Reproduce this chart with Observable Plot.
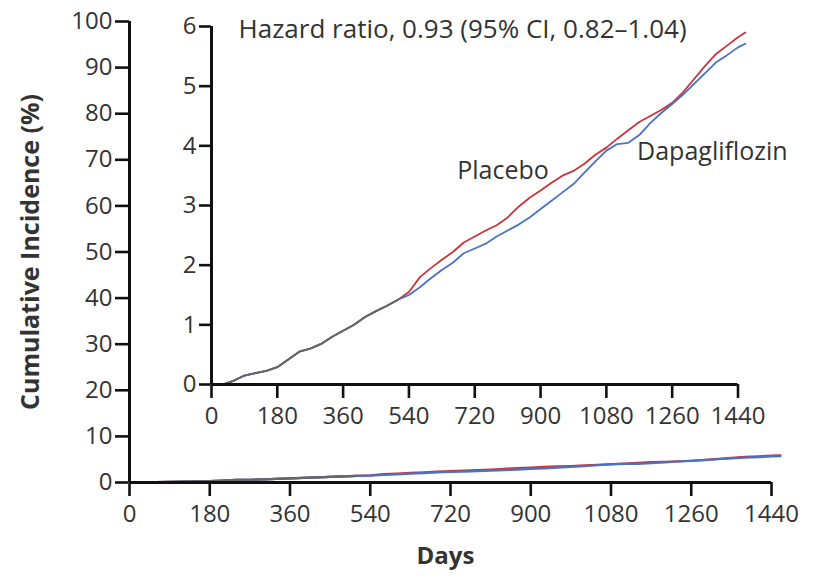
<!DOCTYPE html>
<html><head><meta charset="utf-8">
<script src="https://cdn.jsdelivr.net/npm/d3@7"></script>
<script src="https://cdn.jsdelivr.net/npm/@observablehq/plot@0.6"></script>
<style>
html,body{margin:0;padding:0;background:#fff;}
#wrap{position:relative;width:814px;height:581px;overflow:hidden;}
#wrap svg{position:absolute;left:0;top:0;}
#wrap [aria-label*="axis"] line, #wrap [aria-label*="axis"] path{stroke-width:2.6px;stroke:#111;}
</style></head><body><div id="wrap"></div>
<script>
const days = [0,30,60,90,120,150,180,210,240,270,300,330,360,390,420,450,480,510,540,570,600,630,660,690,720,750,780,810,840,870,900,930,960,990,1020,1050,1080,1110,1140,1170,1200,1230,1260,1290,1320,1350,1380,1410,1440,1460];
const placebo = [0,0,0.06,0.15,0.19,0.23,0.29,0.42,0.55,0.60,0.68,0.80,0.90,1.00,1.13,1.23,1.32,1.42,1.55,1.80,1.95,2.09,2.22,2.38,2.48,2.58,2.67,2.80,2.98,3.13,3.25,3.38,3.50,3.58,3.70,3.85,3.97,4.12,4.26,4.40,4.50,4.60,4.72,4.90,5.12,5.34,5.54,5.68,5.82,5.90];
const dapagliflozin = [0,0,0.06,0.15,0.19,0.23,0.29,0.42,0.55,0.60,0.68,0.80,0.90,1.00,1.13,1.23,1.32,1.42,1.50,1.63,1.78,1.92,2.04,2.20,2.28,2.36,2.48,2.58,2.68,2.80,2.94,3.08,3.22,3.36,3.55,3.74,3.92,4.03,4.05,4.18,4.38,4.55,4.70,4.86,5.04,5.22,5.40,5.52,5.65,5.71];
const xTicks = [0,180,360,540,720,900,1080,1260,1440];
const mainYTicks = [0,10,20,30,40,50,60,70,80,90,100];
const insetYTicks = [0,1,2,3,4,5,6];
const hazardText = ["Hazard ratio, 0.93 (95% CI, 0.82\u20131.04)"];
const seriesNames = ["Placebo","Dapagliflozin"];
const xTitle = ["Days"];
const yTitle = ["Cumulative Incidence (%)"];

const colors = {Placebo:"#c9343c", Dapagliflozin:"#4a72c4", common:"#666"};
const rows = [];
days.forEach((d,i)=>{
  rows.push({day:d, value:placebo[i], series:"Placebo"});
  rows.push({day:d, value:dapagliflozin[i], series:"Dapagliflozin"});
});
const common = days.map((d,i)=>({day:d, value:placebo[i], same: placebo[i]===dapagliflozin[i]})).filter(r=>r.same);

function curveMarks(w) {
  return [
    Plot.line(rows.filter(r=>r.series==="Placebo"), {x:"day", y:"value", stroke:colors.Placebo, strokeWidth:w}),
    Plot.line(rows.filter(r=>r.series==="Dapagliflozin"), {x:"day", y:"value", stroke:colors.Dapagliflozin, strokeWidth:w}),
    Plot.line(common, {x:"day", y:"value", stroke:colors.common, strokeWidth:w})
  ];
}
const font = "'Open Sans', 'Noto Sans', sans-serif";

const main = Plot.plot({
  width:814, height:581,
  marginLeft:129, marginRight:43, marginTop:21, marginBottom:99,
  style:{fontFamily:font, fontSize:"24px", color:"#333", background:"transparent"},
  x:{domain:[0,1440], ticks:xTicks, tickSize:14, tickPadding:8, label:null, tickFormat:d=>String(d)},
  y:{domain:[0,100], ticks:mainYTicks, tickSize:14, tickPadding:3, label:null, tickFormat:d=>String(d)},
  marks:[
    ...curveMarks(2.2),
    Plot.ruleY([0], {stroke:"#111", strokeWidth:3}),
    Plot.ruleX([0], {stroke:"#111", strokeWidth:3}),
    Plot.text(xTitle, {frameAnchor:"bottom", dy:81, dx:-5, fontWeight:"bold", fontSize:24, fill:"#333"}),
    Plot.text(yTitle, {frameAnchor:"left", textAnchor:"middle", rotate:-90, dx:-99, fontWeight:"bold", fontSize:25, fill:"#333"})
  ]
});

const inset = Plot.plot({
  width:814, height:581,
  marginLeft:211, marginRight:76.5, marginTop:26, marginBottom:197,
  style:{fontFamily:font, fontSize:"24px", color:"#333", background:"transparent"},
  x:{domain:[0,1440], ticks:xTicks, tickSize:14, tickPadding:8, label:null, tickFormat:d=>String(d)},
  y:{domain:[0,6], ticks:insetYTicks, tickSize:12, tickPadding:3, label:null, tickFormat:d=>String(d)},
  marks:[
    ...curveMarks(1.8),
    Plot.ruleY([0], {stroke:"#111", strokeWidth:3}),
    Plot.ruleX([0], {stroke:"#111", strokeWidth:3}),
    Plot.text(hazardText, {x:74, y:5.95, textAnchor:"start", fontSize:26, fill:"#333"}),
    Plot.text([seriesNames[0]], {x:672, y:3.58, textAnchor:"start", fontSize:25, fill:"#333"}),
    Plot.text([seriesNames[1]], {x:1164, y:3.89, textAnchor:"start", fontSize:25, fill:"#333"})
  ]
});
const wrap = document.getElementById("wrap");
wrap.appendChild(main);
wrap.appendChild(inset);
</script></body></html>
